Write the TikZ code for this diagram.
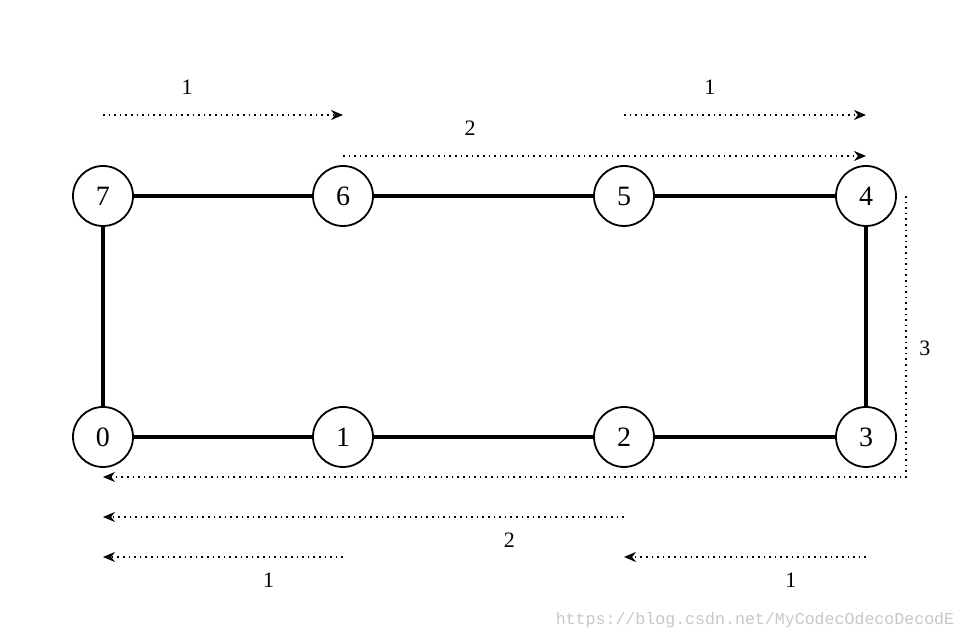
\documentclass[tikz,border=0pt]{standalone}
\usepackage{fontspec}
\setmainfont{Liberation Serif}
\setmonofont{Liberation Mono}
\usetikzlibrary{arrows.meta,calc}
\begin{document}
\begin{tikzpicture}[x=0.5pt, y=0.5pt,
		proc/.style={circle, draw, line width=0.9pt, minimum size=30pt, inner sep=0pt, font=\fontsize{14}{17}\selectfont},
		link/.style={line width=1.6pt},
		hop/.style={dotted, line width=0.8pt, -{Stealth[open, length=6pt, width=5pt, line width=0.9pt]}},
		hoplabel/.style={font=\fontsize{11}{13}\selectfont}]
	\useasboundingbox (0,0) rectangle (966,640);
	% ring of processes
	\node[proc] (n7) at (103,444) {7};
	\node[proc] (n6) at (343,444) {6};
	\node[proc] (n5) at (624,444) {5};
	\node[proc] (n4) at (866,444) {4};
	\node[proc] (n0) at (103,203) {0};
	\node[proc] (n1) at (343,203) {1};
	\node[proc] (n2) at (624,203) {2};
	\node[proc] (n3) at (866,203) {3};
	\draw[link] (n7) -- (n6) -- (n5) -- (n4) -- (n3) -- (n2) -- (n1) -- (n0) -- (n7);
	% message steps, top
	\draw[hop] ($(n7)+(0,81)$) -- ($(n6)+(0,81)$) node[hoplabel, pos=.35, yshift=14pt] {1};
	\draw[hop] ($(n5)+(0,81)$) -- ($(n4)+(0,81)$) node[hoplabel, pos=.355, yshift=14pt] {1};
	\draw[hop] ($(n6)+(0,40)$) -- ($(n4)+(0,40)$) node[hoplabel, pos=.243, yshift=14pt] {2};
	% around the corner
	\coordinate (c4) at ($(n4)+(40,0)$);
	\coordinate (c3) at ($(n3)+(40,-40)$);
	\draw[hop] (c4) -- (c3) node[hoplabel, midway, right=3pt, yshift=-6pt] {3} -- ($(n0)+(0,-40)$);
	% message steps, bottom
	\draw[hop] ($(n2)+(0,-80)$) -- ($(n0)+(0,-80)$) node[hoplabel, pos=.22, yshift=-11.5pt] {2};
	\draw[hop] ($(n1)+(0,-120)$) -- ($(n0)+(0,-120)$) node[hoplabel, pos=.31, yshift=-11.5pt] {1};
	\draw[hop] ($(n3)+(0,-120)$) -- ($(n2)+(0,-120)$) node[hoplabel, pos=.31, yshift=-11.5pt] {1};
	\node[font=\ttfamily\fontsize{8.3}{10}\selectfont, text=black!22] (mark) at (755,20) {https://blog.csdn.net/MyCodecOdecoDecodE};
\end{tikzpicture}
\end{document}
